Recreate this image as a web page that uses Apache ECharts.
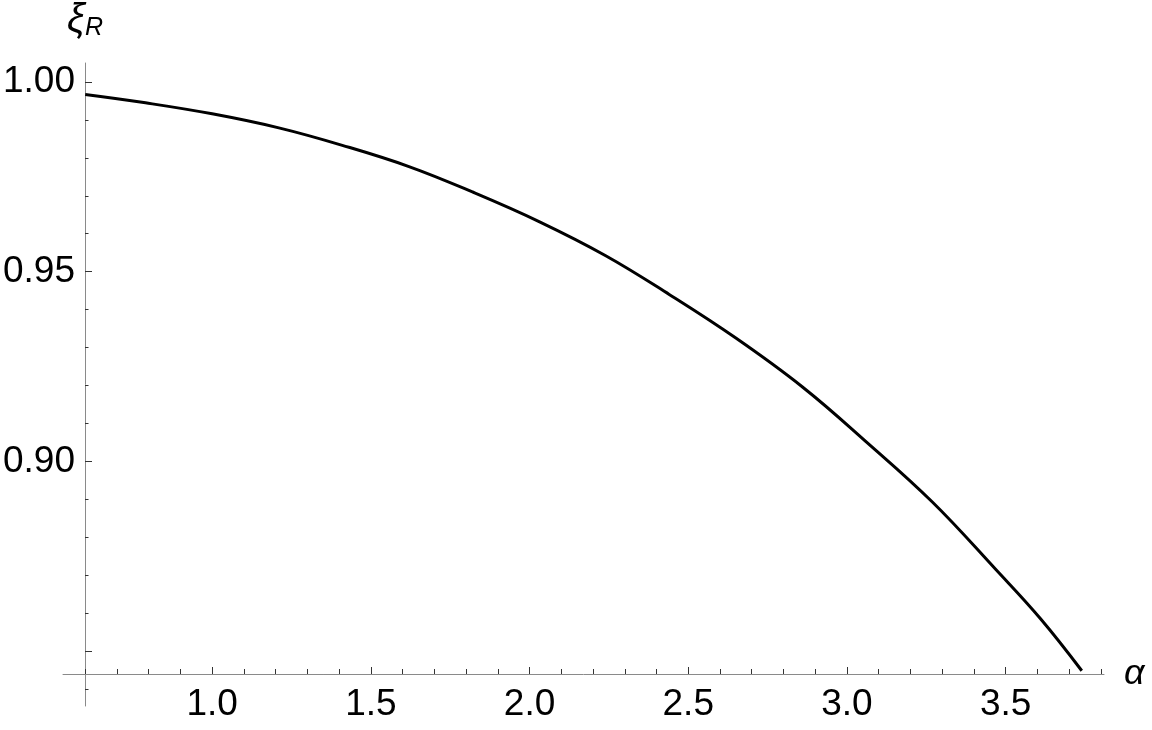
<!DOCTYPE html>
<html>
<head>
<meta charset="utf-8">
<script src="https://cdn.jsdelivr.net/npm/echarts@6/dist/echarts.min.js"></script>
<style>
	html, body { margin: 0; padding: 0; background: #fff; }
	#chart { width: 1152px; height: 730px; }
</style>
</head>
<body>
<div id="chart"></div>
<script>
// curve
var alphaValues = [0.60, 0.79, 1.00, 1.21, 1.41, 1.62, 1.82, 2.03, 2.24, 2.44, 2.65, 2.86, 3.06, 3.27, 3.47, 3.61, 3.74];
var xiValues = [0.9967, 0.9945, 0.9916, 0.9879, 0.9833, 0.9777, 0.9710, 0.9632, 0.9542, 0.9440, 0.9325, 0.9196, 0.9052, 0.8892, 0.8714, 0.8585, 0.8448];

// ticks
var xLabels = [1.0, 1.5, 2.0, 2.5, 3.0, 3.5];
var xMinor = [0.6, 0.7, 0.8, 0.9, 1.1, 1.2, 1.3, 1.4, 1.6, 1.7, 1.8, 1.9, 2.1, 2.2, 2.3, 2.4, 2.6, 2.7, 2.8, 2.9, 3.1, 3.2, 3.3, 3.4, 3.6, 3.7, 3.8];
var yLabels = [0.90, 0.95, 1.00];
var yMajor = [0.85, 0.90, 0.95, 1.00];
var yMinor = [0.84, 0.86, 0.87, 0.88, 0.89, 0.91, 0.92, 0.93, 0.94, 0.96, 0.97, 0.98, 0.99];

var chart = echarts.init(document.getElementById('chart'));

var font = 'Liberation Sans, Arial, Helvetica, sans-serif';
var axisColor = '#8a8a8a';
var tickColor = '#333';

var xMin = 0.53, xMax = 3.81;
var yMin = 0.8355, yMax = 1.005;

var points = alphaValues.map(function(a, i) {
	return [a, xiValues[i]];
});

var option = {
	backgroundColor: '#fff',
	animation: false,
	grid: {
		left: 62,
		right: 48,
		top: 63,
		bottom: 24
	},
	xAxis: [{
		type: 'value',
		position: 'bottom',
		min: xMin,
		max: xMax,
		offset: -32,
		name: 'α',
		nameLocation: 'end',
		nameGap: 20,
		nameTextStyle: {
			fontFamily: font,
			fontStyle: 'italic',
			fontSize: 36,
			color: '#000',
			verticalAlign: 'middle'
		},
		axisLine: { show: true, lineStyle: { color: axisColor, width: 1 } },
		axisTick: {
			show: true,
			inside: true,
			length: 7,
			customValues: xLabels,
			lineStyle: { color: tickColor, width: 1 }
		},
		axisLabel: {
			customValues: xLabels,
			margin: 12,
			fontSize: 37,
			fontFamily: font,
			color: '#000',
			formatter: function(v) { return v.toFixed(1); }
		},
		splitLine: { show: false }
	}, {
		type: 'value',
		position: 'bottom',
		min: xMin,
		max: xMax,
		offset: -32,
		axisLine: { show: false },
		axisTick: {
			show: true,
			inside: true,
			length: 5,
			customValues: xMinor,
			lineStyle: { color: tickColor, width: 1 }
		},
		axisLabel: { show: false },
		splitLine: { show: false }
	}],
	yAxis: [{
		type: 'value',
		position: 'left',
		min: yMin,
		max: yMax,
		offset: -22,
		name: '{a|ξ}{b|R}',
		nameLocation: 'end',
		nameGap: 22,
		nameTextStyle: {
			rich: {
				a: { fontFamily: font, fontStyle: 'italic', fontSize: 40, color: '#000' },
				b: { fontFamily: font, fontStyle: 'italic', fontSize: 25, color: '#000', padding: [16, 0, 0, 0] }
			}
		},
		axisLine: { show: true, lineStyle: { color: axisColor, width: 1 } },
		axisTick: {
			show: true,
			inside: true,
			length: 7,
			customValues: yMajor,
			lineStyle: { color: tickColor, width: 1 }
		},
		axisLabel: {
			customValues: yLabels,
			margin: 10,
			fontSize: 37,
			fontFamily: font,
			color: '#000',
			formatter: function(v) { return v.toFixed(2); }
		},
		splitLine: { show: false }
	}, {
		type: 'value',
		position: 'left',
		min: yMin,
		max: yMax,
		offset: -22,
		axisLine: { show: false },
		axisTick: {
			show: true,
			inside: true,
			length: 3.5,
			customValues: yMinor,
			lineStyle: { color: tickColor, width: 1 }
		},
		axisLabel: { show: false },
		splitLine: { show: false }
	}],
	series: [{
		type: 'line',
		xAxisIndex: 0,
		yAxisIndex: 0,
		data: points,
		smooth: 0.4,
		symbol: 'none',
		lineStyle: { color: '#000', width: 3 }
	}]
};

chart.setOption(option);
</script>
</body>
</html>
